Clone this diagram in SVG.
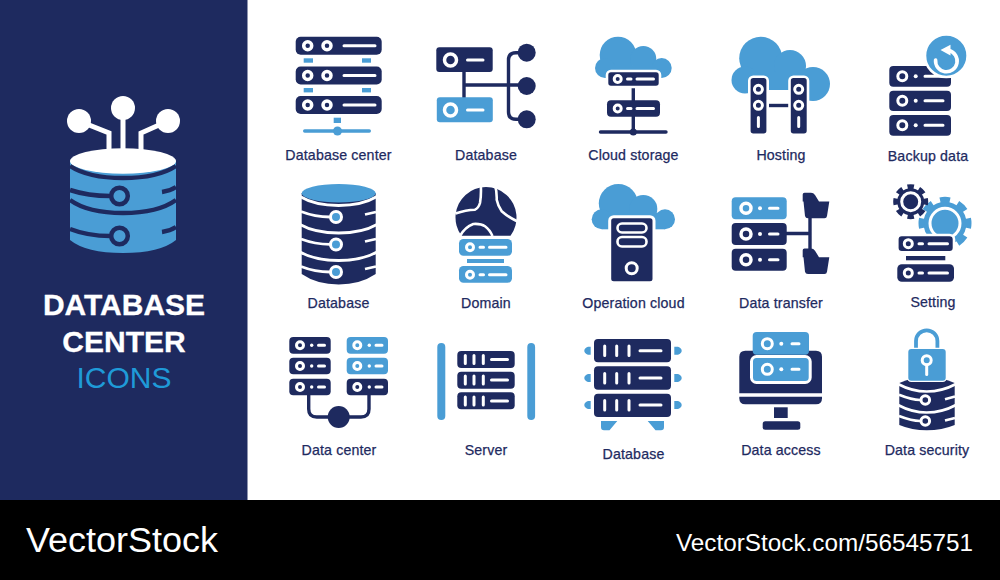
<svg xmlns="http://www.w3.org/2000/svg" width="1000" height="580" viewBox="0 0 1000 580">
<style>
.n{fill:#1e2a5f}.b{fill:#4a9dd5}.w{fill:#fff}
.o{stroke:#fff;stroke-width:2.6}
.wl{fill:none;stroke:#fff;stroke-width:3;stroke-linecap:round}
.nl{fill:none;stroke:#1e2a5f;stroke-width:3.4}
.rn{fill:#1e2a5f;stroke:#fff;stroke-width:3}
.rb{fill:#4a9dd5;stroke:#fff;stroke-width:3}
.t{font-family:"Liberation Sans",Arial,sans-serif;font-size:14.2px;fill:#1e2a5f;stroke:#1e2a5f;stroke-width:.25;text-anchor:middle;letter-spacing:.15px}
.h{font-family:"Liberation Sans",Arial,sans-serif;font-size:30px;text-anchor:middle}
.f{font-family:"Liberation Sans",Arial,sans-serif;fill:#fff}
</style>
<rect width="1000" height="580" fill="#fff"/>
<rect id="sidebar" width="247.5" height="500" class="n"/>
<rect id="footer" y="500" width="1000" height="80" fill="#000"/>

<g id="hero">
<path d="M79 121L109 133V152M123 108V152M168 121L141 133V152" fill="none" stroke="#fff" stroke-width="5"/>
<circle cx="79" cy="121" r="12" class="w"/><circle cx="123" cy="108" r="12" class="w"/><circle cx="168" cy="121" r="12" class="w"/>
<path d="M70 161H176V240Q160 253 123 253Q86 253 70 240Z" class="b"/>
<ellipse cx="123" cy="161" rx="53" ry="12.7" class="w"/>
<path d="M70 166Q88 178 123 178Q158 178 176 166M70 200Q88 213 123 213Q158 213 176 200M70 190Q88 196 110 196M162 192Q170 191 176 187M70 229Q88 236 110 236M162 232Q170 231 176 227" fill="none" stroke="#1e2a5f" stroke-width="4.5"/>
<circle cx="119.500" cy="196" r="8.300" fill="#4a9dd5" stroke="#1e2a5f" stroke-width="4.500"/>
<circle cx="119.500" cy="236" r="8.300" fill="#4a9dd5" stroke="#1e2a5f" stroke-width="4.500"/>
</g>
<text class="h w" font-weight="700" x="124" y="315" stroke="#fff" stroke-width=".3">DATABASE</text>
<text class="h w" font-weight="700" x="124" y="352" stroke="#fff" stroke-width=".3">CENTER</text>
<text class="h" x="124" y="388" fill="#1f9ad8">ICONS</text>

<g id="database-center">
<g class="b"><rect x="303.7" y="58.3" width="9.3" height="4.4"/><rect x="362" y="58.3" width="9" height="4.4"/><rect x="303.7" y="88" width="9.3" height="4.4"/><rect x="362" y="88" width="9" height="4.4"/><rect x="333.7" y="117.7" width="7.3" height="5.3"/>
<rect x="303" y="129.2" width="68" height="3.5" rx="1.7"/><circle cx="337.5" cy="131" r="4.5"/></g>
<g class="n"><rect x="295.7" y="36.7" width="86" height="18" rx="5"/><rect x="295.7" y="66.5" width="86" height="18" rx="5"/><rect x="295.7" y="96" width="86" height="18" rx="5"/></g>
<g class="rn" style="stroke-width:3.5"><circle cx="307.7" cy="45.7" r="4"/><circle cx="327" cy="45.7" r="4"/><circle cx="307.7" cy="75.5" r="4"/><circle cx="327" cy="75.5" r="4"/><circle cx="307.7" cy="105" r="4"/><circle cx="327" cy="105" r="4"/></g>
<path class="wl" d="M344 45.7H375M344 75.5H375M344 105H375"/>
</g>
<text class="t" x="338.5" y="160">Database center</text>

<g id="database-tree">
<path class="nl" d="M464 72V98M464 85H518M526 52.7H516Q508.5 52.7 508.5 60V112Q508.5 119.3 516 119.3H526"/>
<circle cx="526.7" cy="52.7" r="9" class="n"/><circle cx="526.7" cy="86" r="9" class="n"/><circle cx="526.7" cy="119.3" r="9" class="n"/>
<rect x="436.3" y="47.3" width="56.4" height="24.7" rx="3" class="n"/>
<rect x="436.8" y="97.3" width="56" height="25" rx="3" class="b"/>
<circle cx="450.5" cy="60" r="6" class="rn" style="stroke-width:3.5"/><circle cx="450.5" cy="110" r="6" class="rb" style="stroke-width:3.5"/>
<path class="wl" d="M467.5 60H483M467.5 110H483"/>
</g>
<text class="t" x="486" y="160">Database</text>

<g id="cloud-storage">
<g class="b"><circle cx="618" cy="55" r="18.3"/><circle cx="643.3" cy="59" r="13"/><circle cx="605" cy="68" r="10"/><circle cx="661.7" cy="68" r="10"/><rect x="605" y="66" width="57" height="12"/></g>
<path class="nl" d="M633.3 85V131M600.5 132H666" stroke-linecap="round"/><circle cx="633.3" cy="132" r="3.5" class="n"/>
<rect x="607" y="71" width="53" height="16" rx="4" class="n o"/><rect x="607" y="100.3" width="53" height="16.4" rx="4" class="n"/>
<circle cx="617.7" cy="79" r="3.5" class="rn"/><circle cx="617.7" cy="108.5" r="3.5" class="rn"/>
<path class="wl" d="M627.5 79H631M637 79H653.5M627.5 108.5H631M637 108.5H653.5"/>
</g>
<text class="t" x="633.5" y="160">Cloud storage</text>

<g id="hosting">
<g class="b"><circle cx="760.7" cy="58.3" r="21.5"/><circle cx="790" cy="66" r="16"/><circle cx="745" cy="80" r="13.5"/><circle cx="813" cy="84" r="17"/><rect x="745" y="72" width="68" height="18"/></g>
<path class="nl" d="M765 105.5H792"/>
<rect x="749.3" y="76.7" width="18.4" height="58" rx="4" class="n o"/><rect x="789.5" y="76.7" width="18.5" height="58" rx="4" class="n o"/>
<circle cx="758.4" cy="89.3" r="4" class="rn"/><circle cx="758.4" cy="105.3" r="4" class="rn"/><circle cx="798.7" cy="89.3" r="4" class="rn"/><circle cx="798.7" cy="105.3" r="4" class="rn"/>
<path class="wl" d="M758.4 117.5V126.5M798.7 117.5V126.5"/>
</g>
<text class="t" x="781" y="160">Hosting</text>

<g id="backup-data">
<g class="n"><rect x="889.3" y="66" width="61.7" height="20.7" rx="4"/><rect x="889.3" y="90.7" width="61.7" height="20.3" rx="4"/><rect x="889.3" y="115" width="61.7" height="20.7" rx="4"/></g>
<g class="rn"><circle cx="902.3" cy="76.3" r="4.5"/><circle cx="902.3" cy="100.7" r="4.5"/><circle cx="902.3" cy="125.3" r="4.5"/></g>
<g class="w"><circle cx="915.7" cy="76.3" r="2"/><circle cx="915.7" cy="100.7" r="2"/><circle cx="915.7" cy="125.3" r="2"/></g>
<path class="wl" d="M925 76.3H943M925 100.7H943M925 125.3H943"/>
<circle cx="946.3" cy="55.7" r="21.3" class="b o"/>
<path d="M949 50.5A10.8 10.800 0 1 1 935.6 60" fill="none" stroke="#fff" stroke-width="3.6" stroke-linecap="round"/>
<path d="M940.5 50L950.5 44.8V55.5Z" class="w"/>
</g>
<text class="t" x="928" y="161">Backup data</text>

<g id="database-cylinder">
<path d="M301.7 193H375.7V274Q360 284.5 338.7 284.5Q317 284.5 301.7 274Z" class="n"/>
<path d="M300 196.5Q315 205.5 338.7 205.5Q362 205.5 377 196.5M300 224.5Q315 233 338.7 233Q362 233 377 224.5M300 252Q315 260.5 338.7 260.5Q362 260.5 377 252M301 211.5Q315 217 330 217M365 214.5L376 212M301 239Q315 244.3 330 244.3M365 241.5L376 239M301 266.5Q315 272 330 272M365 269L376 266.5" fill="none" stroke="#fff" stroke-width="2.8"/>
<ellipse cx="338.7" cy="193.2" rx="37" ry="9.2" class="b"/>
<g class="rb"><circle cx="336" cy="217" r="5.5"/><circle cx="336" cy="244.5" r="5.5"/><circle cx="336" cy="272" r="5.5"/></g>
</g>
<text class="t" x="338.5" y="308">Database</text>

<g id="domain">
<path d="M461.5 235.7A30.5 30.5 0 1 1 510.500 235.7Z" class="n"/>
<path d="M480.7 183Q481.500 195 480 203Q478.500 208 475 209.7Q466 210 455.500 213.500M495 185Q497 192 496.700 199.700Q498 206 501.700 211.300Q508 217 517.500 221.500M460 236Q465 227 473.300 224Q481 223.500 485 226.300Q489.500 229.500 492.500 236" fill="none" stroke="#fff" stroke-width="2.600"/>
<g class="b"><rect x="459" y="239" width="53" height="16.700" rx="4.500"/><rect x="459" y="266" width="53" height="16.700" rx="4.500"/><rect x="467" y="259" width="37" height="4"/></g>
<circle cx="470" cy="247.300" r="3.500" class="rb"/><circle cx="470" cy="274.700" r="3.500" class="rb"/>
<path class="wl" d="M480 247.300H483.500M489.500 247.300H506M480 274.700H483.500M489.500 274.700H506"/>
</g>
<text class="t" x="486" y="308">Domain</text>

<g id="operation-cloud">
<g class="b"><circle cx="618.300" cy="203.500" r="19.500"/><circle cx="643.300" cy="209" r="14"/><circle cx="601.700" cy="219.300" r="10"/><circle cx="665" cy="219.300" r="10"/><rect x="602" y="213" width="63" height="16.300"/></g>
<rect x="609.700" y="216.700" width="44.300" height="66" rx="4" class="n" stroke="#fff" stroke-width="3"/>
<rect x="617.500" y="223.500" width="29" height="9" rx="4.500" class="n o"/><rect x="617.500" y="237" width="29" height="9.500" rx="4.500" class="n o"/>
<circle cx="631.700" cy="268.300" r="5.500" class="rn"/>
</g>
<text class="t" x="633.500" y="308">Operation cloud</text>

<g id="data-transfer">
<path class="nl" d="M786 233.500H810M810 210V250"/>
<rect x="731.700" y="197.300" width="55" height="22" rx="4" class="b"/><rect x="731.700" y="223" width="55" height="22" rx="4" class="n"/><rect x="731.700" y="248.700" width="55" height="22" rx="4" class="n"/>
<circle cx="746" cy="208.300" r="5" class="rb" style="stroke-width:3.500"/><circle cx="746" cy="234" r="5" class="rn" style="stroke-width:3.500"/><circle cx="746" cy="259.700" r="5" class="rn" style="stroke-width:3.500"/>
<g class="w"><circle cx="760" cy="208.300" r="2"/><circle cx="760" cy="234" r="2"/><circle cx="760" cy="259.700" r="2"/></g>
<path class="wl" d="M769.500 208.300H778M769.500 234H778M769.500 259.700H778"/>
<g class="n"><path d="M802.700 194.500Q802.700 192.700 804.500 192.700H811Q813.500 192.700 815 195L819 201.500H829.300L827 216Q826.700 218.300 824.500 218.300H808Q805.500 218.300 805 216L803.500 201.500H802.700Z"/>
<path d="M802.700 250.200Q802.700 248.400 804.500 248.400H811Q813.500 248.400 815 250.700L819 257.200H829.300L827 271.700Q826.700 274 824.500 274H808Q805.500 274 805 271.700L803.500 257.200H802.700Z"/></g>
</g>
<text class="t" x="781" y="308">Data transfer</text>

<g id="setting">
<circle cx="945" cy="223.300" r="21.500" class="b"/><circle cx="945" cy="223.300" r="23.500" fill="none" stroke="#4a9dd5" stroke-width="6" pathLength="16" stroke-dasharray="1.100 .9" stroke-dashoffset=".55"/>
<circle cx="945" cy="223.300" r="15" class="b o" style="stroke-width:3"/>
<circle cx="910.700" cy="201.700" r="13.500" class="n"/><circle cx="910.700" cy="201.700" r="15" fill="none" stroke="#1e2a5f" stroke-width="5" pathLength="16" stroke-dasharray="1.100 .9" stroke-dashoffset=".55"/>
<circle cx="910.700" cy="201.700" r="9" class="rn"/>
<rect x="897.300" y="235" width="56.700" height="17.300" rx="4.500" class="n o"/><rect x="897.300" y="264.300" width="56.700" height="17.400" rx="4.500" class="n"/><rect x="906" y="256" width="39.300" height="4.300" class="n"/>
<circle cx="908.300" cy="243.700" r="4" class="rn"/><circle cx="908.300" cy="273" r="4" class="rn"/>
<path class="wl" d="M919 243.700H922.500M929 243.700H947.500M919 273H922.500M929 273H947.500"/>
</g>
<text class="t" x="933" y="307">Setting</text>

<g id="data-center">
<path class="nl" d="M308.700 395V409Q308.700 417 316.700 417H361Q369 417 369 409V395"/>
<circle cx="338.700" cy="417" r="11" class="n"/>
<g class="n"><rect x="289.300" y="337" width="41.400" height="16.700" rx="4"/><rect x="289.300" y="357.700" width="41.400" height="16.600" rx="4"/><rect x="289.300" y="378.700" width="41.400" height="16.500" rx="4"/><rect x="346.700" y="378.700" width="41.300" height="16.500" rx="4"/></g>
<g class="b"><rect x="346.700" y="337" width="41.300" height="16.700" rx="4"/><rect x="346.700" y="357.700" width="41.300" height="16.600" rx="4"/></g>
<g class="rn"><circle cx="300" cy="345.300" r="3.500"/><circle cx="300" cy="366" r="3.500"/><circle cx="300" cy="387" r="3.500"/><circle cx="357.300" cy="387" r="3.500"/></g>
<g class="rb"><circle cx="357.300" cy="345.300" r="3.500"/><circle cx="357.300" cy="366" r="3.500"/></g>
<g class="w"><circle cx="311.700" cy="345.300" r="1.700"/><circle cx="311.700" cy="366" r="1.700"/><circle cx="311.700" cy="387" r="1.700"/><circle cx="369.300" cy="345.300" r="1.700"/><circle cx="369.300" cy="366" r="1.700"/><circle cx="369.300" cy="387" r="1.700"/></g>
<path class="wl" d="M318.500 345.300H324.500M318.500 366H324.500M318.500 387H324.500M376 345.300H382M376 366H382M376 387H382"/>
</g>
<text class="t" x="339" y="455">Data center</text>

<g id="server">
<rect x="437.300" y="343" width="8" height="77" rx="4" class="b"/><rect x="527.300" y="343" width="7.800" height="77" rx="3.900" class="b"/>
<g class="n"><rect x="457.300" y="351" width="57.400" height="17" rx="4"/><rect x="457.300" y="371.700" width="57.400" height="17" rx="4"/><rect x="457.300" y="392.300" width="57.400" height="17" rx="4"/></g>
<path class="wl" d="M465.300 355.500V363.500M474 355.500V363.500M483.300 355.500V363.500M491.500 359.500H507.500M465.300 376V384M474 376V384M483.300 376V384M491.500 380H507.500M465.300 397V405M474 397V405M483.300 397V405M491.500 401H507.500"/>
</g>
<text class="t" x="486" y="455">Server</text>

<g id="database-rack">
<g class="b"><path d="M590.700 346.700H588Q584.300 348 584.300 350.700Q584.300 353.400 588 354.700H590.700ZM590.700 374H588Q584.300 375.300 584.300 378Q584.300 380.700 588 382H590.700ZM590.700 401H588Q584.300 402.300 584.300 405Q584.300 407.700 588 409H590.700Z"/>
<path d="M674.300 346.700H678Q681.700 348 681.700 350.700Q681.700 353.400 678 354.700H674.300ZM674.300 374H678Q681.700 375.300 681.700 378Q681.700 380.700 678 382H674.300ZM674.300 401H678Q681.700 402.300 681.700 405Q681.700 407.700 678 409H674.300Z"/>
<path d="M601 421H617.300L609.500 430.300H604Q601 430.300 601 427ZM664 421H647.700L655.500 430.300H661Q664 430.300 664 427Z"/></g>
<g class="n"><rect x="594" y="339" width="77" height="23.300" rx="4"/><rect x="594" y="366.300" width="77" height="23.400" rx="4"/><rect x="594" y="393.700" width="77" height="23.300" rx="4"/></g>
<path class="wl" d="M604.700 346V355.500M616.700 346V355.500M629 346V355.500M640 350.700H661M604.700 373.500V383M616.700 373.500V383M629 373.500V383M640 378H661M604.700 400.500V410M616.700 400.500V410M629 400.500V410M640 405H661"/>
</g>
<text class="t" x="633.500" y="459">Database</text>

<g id="data-access">
<path d="M739.300 393.300V356.700Q739.300 350.700 745.300 350.700H816Q822 350.700 822 356.700V393.300Z" class="n"/>
<path d="M739.300 396.700H822V398.300Q822 404.300 816 404.300H745.300Q739.300 404.300 739.300 398.300Z" class="n"/>
<rect x="774" y="407.300" width="13.700" height="10.700" class="n"/><rect x="762.700" y="421.300" width="37.600" height="8.400" rx="2.500" class="n"/>
<rect x="752.700" y="332" width="56.300" height="22.700" rx="4" class="b"/>
<rect x="751.500" y="356.500" width="58.700" height="26" rx="5" class="b" stroke="#fff" stroke-width="3"/>
<circle cx="767.300" cy="343.700" r="5" class="rb"/><circle cx="767.300" cy="369.300" r="5" class="rb"/>
<circle cx="781.300" cy="343.700" r="2" class="w"/><circle cx="781.300" cy="369.300" r="2" class="w"/>
<path class="wl" d="M792 343.700H799M792 369.300H799"/>
</g>
<text class="t" x="781" y="455">Data access</text>

<g id="data-security">
<path d="M899.300 383Q912 377 926.700 377Q942 377 954.700 383V425Q942 430.300 926.700 430.300Q912 430.300 899.300 425Z" class="n"/>
<path d="M898 384Q912 391.500 926.700 391.500Q942 391.500 956 384M898 405Q912 412.500 926.700 412.500Q942 412.500 956 405M899 394.800Q912 400 920 400M945 399.300L955 396.500M899 416Q912 421 920 421M945 420.500L955 418" fill="none" stroke="#fff" stroke-width="2.600"/>
<circle cx="925.300" cy="400" r="4.300" class="rn"/><circle cx="925.300" cy="421" r="4.300" class="rn"/>
<path d="M916 350V341A10.700 10.700 0 0 1 937.400 341V350" fill="none" stroke="#4a9dd5" stroke-width="3.800"/>
<rect x="908.300" y="349" width="37.400" height="31.700" rx="3" class="b" stroke="#fff" stroke-width="2.500" paint-order="stroke"/>
<circle cx="926.700" cy="360.300" r="4.500" class="rb"/><path class="wl" d="M926.700 365V374.500"/>
</g>
<text class="t" x="927" y="455">Data security</text>

<text class="f" x="26" y="552" font-size="35" textLength="192" lengthAdjust="spacingAndGlyphs">VectorStock</text>
<text class="f" x="676" y="551" font-size="24" textLength="297" lengthAdjust="spacingAndGlyphs">VectorStock.com/56545751</text>
</svg>
